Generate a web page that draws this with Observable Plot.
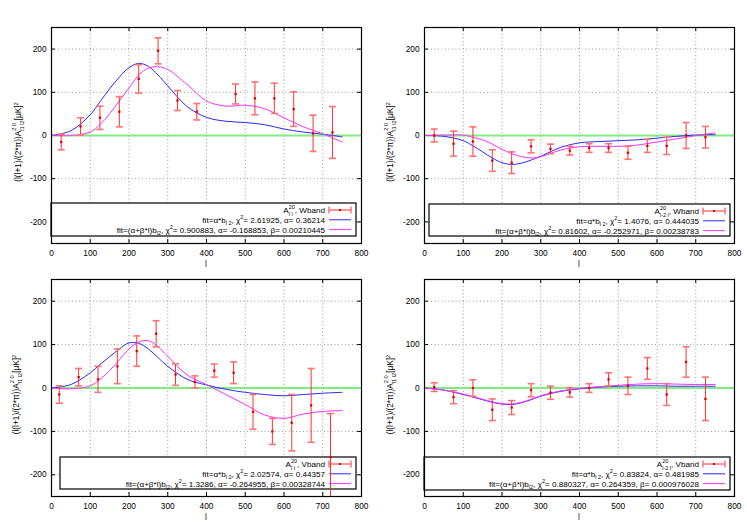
<!DOCTYPE html>
<html><head><meta charset="utf-8">
<script src="https://cdn.jsdelivr.net/npm/d3@7"></script>
<script src="https://cdn.jsdelivr.net/npm/@observablehq/plot@0.6"></script>
<style>
html,body{margin:0;padding:0;background:#fff}
body{width:747px;height:523px;position:relative;overflow:hidden;font-family:"Liberation Sans",Arial,sans-serif}
</style></head><body>
<script>
// ---------- data ----------
const xTicks = [0,100,200,300,400,500,600,700,800];
const yTicks = [-200,-100,0,100,200];
const xGrid = [100,200,300,400,500,600,700];
const yGrid = [-200,-100,0,100,200];
const zeroLine = [0];
const lCurve = [0,50,100,125,150,175,200,225,250,275,300,350,400,450,500,550,600,650,700,750];

// panel 1: A_ll, Wband
const p1L   = [25,75,125,175,225,275,325,375,475,525,575,625,675,725];
const p1Val = [-15,21,41,55,131,196,81,55,96,86,86,61,5,7];
const p1Err = [18,20,27,35,33,30,23,19,23,38,35,40,42,60];
const p1Blue    = [0,11,48,78,108,135,157,167,160,140,115,67,42,33,30,25,15,8,3,-3];
const p1Magenta = [0,0,8,25,50,80,110,140,156,159,153,118,80,68,70,62,41,20,4,-15];

// panel 2: A_l-2l, Wband
const p2L   = [25,75,125,175,225,275,325,375,425,475,525,575,625,675,725];
const p2Val = [0,-19,-14,-58,-63,-25,-31,-35,-29,-29,-40,-24,-24,0,-4];
const p2Err = [15,29,34,25,25,15,11,10,10,10,15,15,20,30,25];
const p2Blue    = [0,-2,-12,-24,-38,-52,-63,-67,-64,-57,-48,-28,-17,-14,-12,-10,-6,-2,1,2];
const p2Magenta = [0,1,1,-4,-10,-20,-32,-42,-49,-52,-49,-34,-26,-25,-25,-22,-15,-8,0,6];

// panel 3: A_ll, Vband
const p3L   = [20,70,120,170,220,270,320,370,420,470,520,570,620,670,720];
const p3Val = [-15,25,20,50,85,125,31,14,40,35,-55,-100,-80,-40,-159];
const p3Err = [20,20,30,40,35,30,25,14,15,25,40,30,65,85,100];
const p3Blue    = [0,8,35,54,72,90,104,103,90,70,50,20,7,-3,-10,-15,-18,-15,-12,-10];
const p3Magenta = [0,-2,5,20,40,65,90,106,109,95,73,30,8,-15,-38,-62,-70,-60,-54,-52];

// panel 4: A_l-2l, Vband
const p4L   = [25,75,125,175,225,275,325,375,425,475,525,575,625,675,725];
const p4Val = [2,-21,0,-50,-45,-5,-11,-10,0,20,5,45,-15,60,-25];
const p4Err = [10,15,19,25,16,15,15,11,10,15,20,25,25,35,50];
const p4Blue    = [0,-5,-15,-21,-27,-33,-37,-38,-34,-27,-19,-8,-2,2,4,5,5,4,4,4];
const p4Magenta = [0,-5,-14,-20,-26,-32,-36,-37,-33,-26,-18,-7,-1,3,6,9,10,9,8,8];

// legend texts
const legendTitles = [
  [{t:"A"},{sup:"20",sub:"l l"},{t:", Wband"}],
  [{t:"A"},{sup:"20",sub:"l-2 l"},{t:", Wband"}],
  [{t:"A"},{sup:"20",sub:"l l"},{t:", Vband"}],
  [{t:"A"},{sup:"20",sub:"l-2 l"},{t:", Vband"}]
];
const fit1Stats = [
  "= 2.61925, α= 0.36214",
  "= 1.4076, α= 0.444035",
  "= 2.02574, α= 0.44357",
  "= 0.83824, α= 0.481985"
];
const fit2Stats = [
  "= 0.900883, α= -0.168853, β= 0.00210445",
  "= 0.81602, α= -0.252971, β= 0.00238783",
  "= 1.3286, α= -0.264955, β= 0.00328744",
  "= 0.880327, α= 0.264359, β= 0.000976028"
];

// ---------- drawing ----------
const FS = 8.3;
const LFS = 8.1;
const FONT = "Liberation Sans, Arial, sans-serif";
const RED = "#ff3030", BLUE = "#2a2aff", MAGENTA = "#ff30ff", GREEN = "#80ec80";

function richText(sel, parts, fs) {
  const small = fs * 0.68;
  let cur = 0;      // current baseline offset (positive = down)
  let pendDx = 0;   // horizontal advance still owed after a stacked pair
  for (const p of parts) {
    if (p.t !== undefined) {
      const s = sel.append("tspan").attr("dy", -cur).attr("font-size", fs).text(p.t);
      if (pendDx) s.attr("dx", pendDx);
      pendDx = 0; cur = 0;
    } else if (p.sup !== undefined && p.sub !== undefined) {
      const a = sel.append("tspan").attr("dy", -fs*0.55 - cur).attr("font-size", small).text(p.sup);
      if (pendDx) a.attr("dx", pendDx);
      cur = -fs*0.55;
      const w1 = a.node().getComputedTextLength();
      const b = sel.append("tspan").attr("dx", -w1).attr("dy", fs*0.92).attr("font-size", small).text(p.sub);
      cur += fs*0.92;
      const w2 = b.node().getComputedTextLength();
      pendDx = w1 > w2 ? w1 - w2 : 0;
    } else if (p.sup !== undefined) {
      const s = sel.append("tspan").attr("dy", -fs*0.42 - cur).attr("font-size", small).text(p.sup);
      if (pendDx) s.attr("dx", pendDx);
      pendDx = 0; cur = -fs*0.42;
    } else if (p.sub !== undefined) {
      const s = sel.append("tspan").attr("dy", fs*0.3 - cur).attr("font-size", small).text(p.sub);
      if (pendDx) s.attr("dx", pendDx);
      pendDx = 0; cur = fs*0.3;
    }
  }
}

const capSymbol = {
  draw(ctx, size) {
    const r = Math.sqrt(size / Math.PI);
    ctx.moveTo(-r, 0); ctx.lineTo(r, 0);
  }
};

function makePanel(cfg) {
  const obs = cfg.L.map((l, i) => ({l, v: cfg.V[i], lo: cfg.V[i] - cfg.E[i], hi: cfg.V[i] + cfg.E[i]}));
  const blue = lCurve.map((l, i) => ({l, v: cfg.B[i]}));
  const mag = lCurve.map((l, i) => ({l, v: cfg.M[i]}));
  const fw = cfg.width - cfg.ml - cfg.mr, fh = cfg.height - cfg.mt - cfg.mb;
  const tx = 4 * 800 / fw, ty = 4 * 500 / fh; // inward tick lengths (4px) in data units

  const chart = Plot.plot({
    width: cfg.width, height: cfg.height,
    marginLeft: cfg.ml, marginRight: cfg.mr, marginTop: cfg.mt, marginBottom: cfg.mb,
    x: {domain: [0, 800], ticks: xTicks, tickSize: 0, tickPadding: 7, label: null, tickFormat: d => String(d)},
    y: {domain: [-250, 250], ticks: yTicks, tickSize: 0, tickPadding: 5, label: null, tickFormat: d => String(d)},
    style: {fontFamily: FONT, fontSize: FS + "px", background: "transparent", overflow: "visible", color: "black"},
    marks: [
      Plot.ruleX(xGrid, {stroke: "#9a9a9a", strokeDasharray: "1,2.5"}),
      Plot.ruleY(yGrid, {stroke: "#9a9a9a", strokeDasharray: "1,2.5"}),
      Plot.ruleX(xTicks, {y1: -250, y2: -250 + ty, stroke: "black"}),
      Plot.ruleX(xTicks, {y1: 250 - ty, y2: 250, stroke: "black"}),
      Plot.ruleY(yTicks, {x1: 0, x2: tx, stroke: "black"}),
      Plot.ruleY(yTicks, {x1: 800 - tx, x2: 800, stroke: "black"}),
      Plot.ruleY(zeroLine, {stroke: GREEN, strokeWidth: 2}),
      Plot.line(blue, {x: "l", y: "v", stroke: BLUE, strokeWidth: 1, curve: "catmull-rom"}),
      Plot.line(mag, {x: "l", y: "v", stroke: MAGENTA, strokeWidth: 1, curve: "catmull-rom"}),
      Plot.ruleX(obs, {x: "l", y1: "lo", y2: "hi", stroke: RED, strokeWidth: 1, clip: true}),
      Plot.dot(obs, {x: "l", y: "hi", symbol: capSymbol, r: 3.5, stroke: "#ff7272", strokeWidth: 1.6, clip: true}),
      Plot.dot(obs, {x: "l", y: "lo", symbol: capSymbol, r: 3.5, stroke: "#ff7272", strokeWidth: 1.6, clip: true}),
      Plot.dot(obs, {x: "l", y: "v", symbol: "square", r: 1.3, fill: "#e00000", stroke: "none"}),
      Plot.frame({stroke: "black", strokeWidth: 1.2})
    ]
  });
  chart.style.position = "absolute";
  chart.style.left = cfg.left + "px";
  chart.style.top = cfg.top + "px";
  document.body.appendChild(chart);

  const svg = d3.select(chart);
  const frameL = cfg.ml, frameR = cfg.width - cfg.mr, frameT = cfg.mt, frameB = cfg.height - cfg.mb;

  // legend (inserted just below the green zero line, i.e. under the data marks)
  let anchor = chart.querySelector('[stroke="' + GREEN + '"]');
  while (anchor && anchor.parentNode !== chart) anchor = anchor.parentNode;
  const lg = d3.create("svg:g").attr("font-family", FONT).attr("font-size", LFS).attr("fill", "black");
  const bx = frameL + cfg.lgLeft, bx2 = frameR - cfg.lgRight, by = frameB - cfg.lgBottom - cfg.lgH, by2 = frameB - cfg.lgBottom;
  lg.append("rect").attr("x", bx).attr("y", by).attr("width", bx2 - bx).attr("height", by2 - by)
    .attr("fill", "white").attr("stroke", "black").attr("stroke-width", 1.2);
  if (anchor) chart.insertBefore(lg.node(), anchor); else chart.appendChild(lg.node());

  const textR = bx2 - 31, s1 = bx2 - 27, s2 = bx2 - 5;
  const rows = [by + 7, by + 16.8, by + 26.6];
  const t0 = lg.append("text").attr("x", textR).attr("y", rows[0] + 3).attr("text-anchor", "end");
  richText(t0, legendTitles[cfg.k], LFS);
  const t1 = lg.append("text").attr("x", textR).attr("y", rows[1] + 3).attr("text-anchor", "end");
  richText(t1, [{t: "fit=α*b"}, {sub: "l 2"}, {t: ", χ"}, {sup: "2"}, {t: fit1Stats[cfg.k]}], LFS);
  const t2 = lg.append("text").attr("x", textR).attr("y", rows[2] + 3).attr("text-anchor", "end");
  richText(t2, [{t: "fit=(α+β*l)b"}, {sub: "l2"}, {t: ", χ"}, {sup: "2"}, {t: fit2Stats[cfg.k]}], LFS);
  // samples
  lg.append("line").attr("x1", s1).attr("x2", s2).attr("y1", rows[0]).attr("y2", rows[0]).attr("stroke", RED);
  lg.append("line").attr("x1", s1).attr("x2", s1).attr("y1", rows[0] - 3.5).attr("y2", rows[0] + 3.5).attr("stroke", "#ff6060").attr("stroke-width", 1.3);
  lg.append("line").attr("x1", s2).attr("x2", s2).attr("y1", rows[0] - 3.5).attr("y2", rows[0] + 3.5).attr("stroke", "#ff6060").attr("stroke-width", 1.3);
  lg.append("rect").attr("x", (s1 + s2) / 2 - 1).attr("y", rows[0] - 1).attr("width", 2).attr("height", 2).attr("fill", "#e00000");
  lg.append("line").attr("x1", s1).attr("x2", s2).attr("y1", rows[1]).attr("y2", rows[1]).attr("stroke", BLUE);
  lg.append("line").attr("x1", s1).attr("x2", s2).attr("y1", rows[2]).attr("y2", rows[2]).attr("stroke", MAGENTA);

  // axis labels
  svg.append("text").attr("x", (frameL + frameR) / 2).attr("y", frameB + 24)
    .attr("text-anchor", "middle").attr("font-family", FONT).attr("font-size", FS).attr("fill", "#222").text("l");
  const yl = svg.append("text").attr("text-anchor", "middle").attr("font-family", FONT).attr("font-size", FS)
    .attr("fill", "black")
    .attr("transform", `translate(${cfg.ylx},${(frameT + frameB) / 2 + 7}) rotate(-90)`);
  richText(yl, [{t: "(l(l+1)/(2*π))A"}, {sup: "2 0", sub: "l1 l2"}, {t: "[μK]"}, {sup: "2"}], FS);
}

makePanel({k: 0, left: 0, top: 0, width: 373, height: 262, ml: 51, mr: 12, mt: 27, mb: 19,
  L: p1L, V: p1Val, E: p1Err, B: p1Blue, M: p1Magenta, lgLeft: 0, lgRight: 5, lgBottom: 7, lgH: 33, ylx: 21});
makePanel({k: 1, left: 374, top: 0, width: 373, height: 262, ml: 50, mr: 13, mt: 27, mb: 19,
  L: p2L, V: p2Val, E: p2Err, B: p2Blue, M: p2Magenta, lgLeft: 5, lgRight: 4, lgBottom: 7, lgH: 32, ylx: 19});
makePanel({k: 2, left: 0, top: 262, width: 373, height: 261, ml: 51, mr: 12, mt: 17, mb: 27,
  L: p3L, V: p3Val, E: p3Err, B: p3Blue, M: p3Magenta, lgLeft: 9, lgRight: 5, lgBottom: 7, lgH: 32, ylx: 19});
makePanel({k: 3, left: 374, top: 262, width: 373, height: 261, ml: 50, mr: 13, mt: 17, mb: 27,
  L: p4L, V: p4Val, E: p4Err, B: p4Blue, M: p4Magenta, lgLeft: 0, lgRight: 4, lgBottom: 6, lgH: 33, ylx: 19});
</script>
</body></html>
